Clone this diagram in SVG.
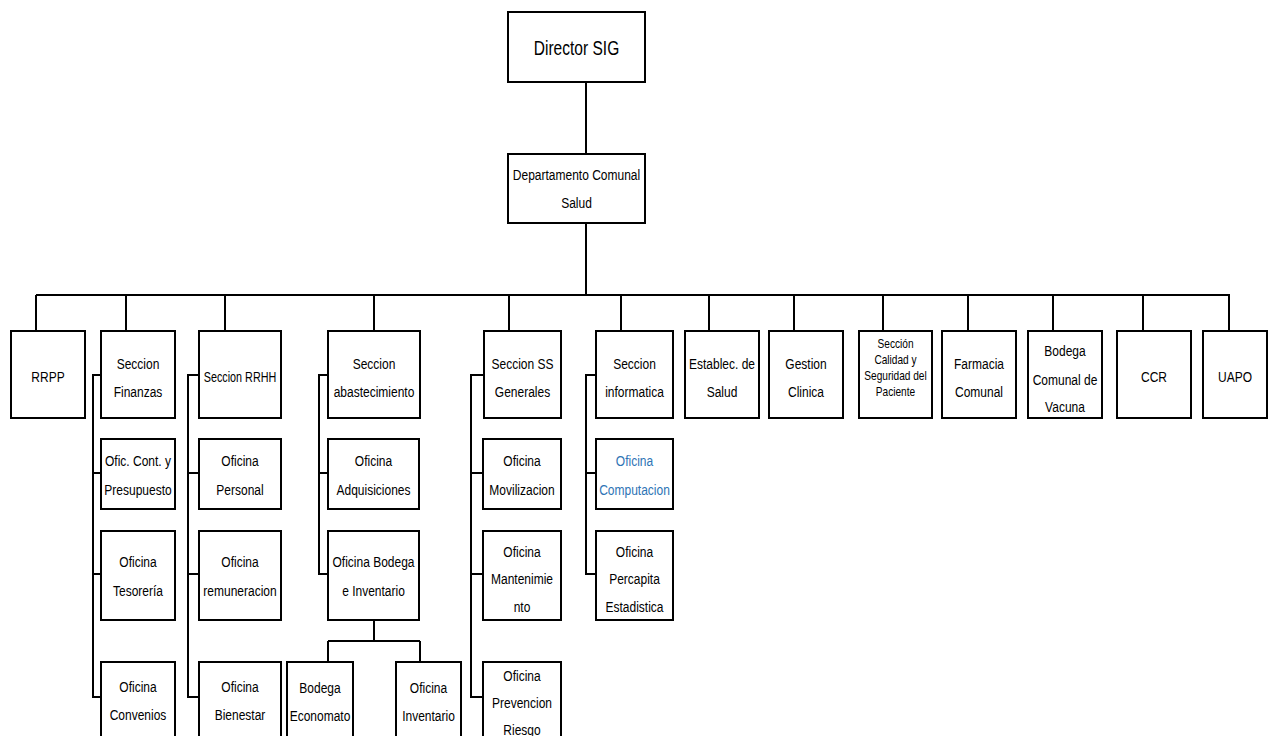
<svg xmlns="http://www.w3.org/2000/svg" width="1269" height="736" viewBox="0 0 1269 736">
<style>
.b{fill:#fff;stroke:#000;stroke-width:2}
.c{fill:none;stroke:#000;stroke-width:2}
text{font-family:"Liberation Sans",Arial,sans-serif;font-size:15px;fill:#000;text-anchor:middle}
.s{font-size:13px}
.l{font-size:21px}
.blue{fill:#2E74B5}
</style>
<rect width="1269" height="736" fill="#fff"/>
<g id="connectors">
<path class="c" d="M586 82V154M586 223V295M36 295H1230"/>
<path class="c" d="M36 295V331M126 295V331M225 295V331M374 295V331M509 295V331M621 295V331M709 295V331M794 295V331M883 295V331M968 295V331M1053 295V331M1143 295V331M1229 295V331"/>
<path class="c" d="M101 375H93V697H101M93 473H101M93 574H101"/>
<path class="c" d="M199 375H188V697H199M188 473H199M188 574H199"/>
<path class="c" d="M328 375H319V574H328M319 473H328"/>
<path class="c" d="M484 375H471V697H483M471 473H483M471 574H483"/>
<path class="c" d="M596 375H586V574H596M586 473H596"/>
<path class="c" d="M374 620V641M328 641H420M328 641V662M420 641V662"/>
</g>
<g id="director"><rect class="b" x="508" y="12" width="137" height="70"/><g transform="translate(576.5 0) scale(.74 1)"><text class="l" y="55">Director SIG</text></g></g>
<g id="departamento"><rect class="b" x="508" y="154" width="137" height="69"/><g transform="translate(576.5 0) scale(.8 1)"><text y="180">Departamento Comunal</text><text y="208">Salud</text></g></g>
<g id="rrpp"><rect class="b" x="11" y="331" width="74" height="87"/><g transform="translate(48 0) scale(.8 1)"><text y="382">RRPP</text></g></g>
<g id="finanzas"><rect class="b" x="101" y="331" width="74" height="87"/><g transform="translate(138 0) scale(.8 1)"><text y="369">Seccion</text><text y="397">Finanzas</text></g></g>
<g id="rrhh"><rect class="b" x="199" y="331" width="82" height="87"/><g transform="translate(240 0) scale(.72 1)"><text y="382">Seccion RRHH</text></g></g>
<g id="abastecimiento"><rect class="b" x="328" y="331" width="92" height="87"/><g transform="translate(374 0) scale(.8 1)"><text y="369">Seccion</text><text y="397">abastecimiento</text></g></g>
<g id="ssgenerales"><rect class="b" x="484" y="331" width="77" height="87"/><g transform="translate(522.5 0) scale(.8 1)"><text y="369">Seccion SS</text><text y="397">Generales</text></g></g>
<g id="informatica"><rect class="b" x="596" y="331" width="77" height="87"/><g transform="translate(634.5 0) scale(.8 1)"><text y="369">Seccion</text><text y="397">informatica</text></g></g>
<g id="establec"><rect class="b" x="685" y="331" width="74" height="87"/><g transform="translate(722 0) scale(.8 1)"><text y="369">Establec. de</text><text y="397">Salud</text></g></g>
<g id="gestion"><rect class="b" x="769" y="331" width="74" height="87"/><g transform="translate(806 0) scale(.8 1)"><text y="369">Gestion</text><text y="397">Clinica</text></g></g>
<g id="calidad"><rect class="b" x="859" y="331" width="73" height="87"/><g transform="translate(895.5 0) scale(.78 1)"><text class="s" y="348">Sección</text><text class="s" y="364">Calidad y</text><text class="s" y="380">Seguridad del</text><text class="s" y="396">Paciente</text></g></g>
<g id="farmacia"><rect class="b" x="942" y="331" width="74" height="87"/><g transform="translate(979 0) scale(.8 1)"><text y="369">Farmacia</text><text y="397">Comunal</text></g></g>
<g id="bodegavacuna"><rect class="b" x="1028" y="331" width="74" height="87"/><g transform="translate(1065 0) scale(.8 1)"><text y="356">Bodega</text><text y="385">Comunal de</text><text y="412">Vacuna</text></g></g>
<g id="ccr"><rect class="b" x="1117" y="331" width="74" height="87"/><g transform="translate(1154 0) scale(.8 1)"><text y="382">CCR</text></g></g>
<g id="uapo"><rect class="b" x="1203" y="331" width="64" height="87"/><g transform="translate(1235 0) scale(.8 1)"><text y="382">UAPO</text></g></g>
<g id="ofic-cont"><rect class="b" x="101" y="439" width="74" height="70"/><g transform="translate(138 0) scale(.8 1)"><text y="466">Ofic. Cont. y</text><text y="495">Presupuesto</text></g></g>
<g id="tesoreria"><rect class="b" x="101" y="531" width="74" height="89"/><g transform="translate(138 0) scale(.8 1)"><text y="567">Oficina</text><text y="596">Tesorería</text></g></g>
<g id="convenios"><rect class="b" x="101" y="662" width="74" height="90"/><g transform="translate(138 0) scale(.8 1)"><text y="692">Oficina</text><text y="720">Convenios</text></g></g>
<g id="personal"><rect class="b" x="199" y="439" width="82" height="70"/><g transform="translate(240 0) scale(.8 1)"><text y="466">Oficina</text><text y="495">Personal</text></g></g>
<g id="remuneracion"><rect class="b" x="199" y="531" width="82" height="89"/><g transform="translate(240 0) scale(.8 1)"><text y="567">Oficina</text><text y="596">remuneracion</text></g></g>
<g id="bienestar"><rect class="b" x="199" y="662" width="82" height="90"/><g transform="translate(240 0) scale(.8 1)"><text y="692">Oficina</text><text y="720">Bienestar</text></g></g>
<g id="adquisiciones"><rect class="b" x="328" y="439" width="91" height="70"/><g transform="translate(373.5 0) scale(.8 1)"><text y="466">Oficina</text><text y="495">Adquisiciones</text></g></g>
<g id="bodega-inventario"><rect class="b" x="328" y="531" width="91" height="89"/><g transform="translate(373.5 0) scale(.8 1)"><text y="567">Oficina Bodega</text><text y="596">e Inventario</text></g></g>
<g id="economato"><rect class="b" x="287" y="662" width="66" height="90"/><g transform="translate(320 0) scale(.8 1)"><text y="693">Bodega</text><text y="721">Economato</text></g></g>
<g id="inventario"><rect class="b" x="396" y="662" width="65" height="90"/><g transform="translate(428.5 0) scale(.8 1)"><text y="693">Oficina</text><text y="721">Inventario</text></g></g>
<g id="movilizacion"><rect class="b" x="483" y="439" width="78" height="70"/><g transform="translate(522 0) scale(.8 1)"><text y="466">Oficina</text><text y="495">Movilizacion</text></g></g>
<g id="mantenimiento"><rect class="b" x="483" y="531" width="78" height="89"/><g transform="translate(522 0) scale(.8 1)"><text y="557">Oficina</text><text y="584">Mantenimie</text><text y="612">nto</text></g></g>
<g id="prevencion"><rect class="b" x="483" y="662" width="78" height="90"/><g transform="translate(522 0) scale(.8 1)"><text y="681">Oficina</text><text y="708">Prevencion</text><text y="735">Riesgo</text></g></g>
<g id="computacion"><rect class="b" x="596" y="439" width="77" height="70"/><g transform="translate(634.5 0) scale(.8 1)"><text class="blue" y="466">Oficina</text><text class="blue" y="495">Computacion</text></g></g>
<g id="percapita"><rect class="b" x="596" y="531" width="77" height="89"/><g transform="translate(634.5 0) scale(.8 1)"><text y="557">Oficina</text><text y="584">Percapita</text><text y="612">Estadistica</text></g></g>
</svg>
